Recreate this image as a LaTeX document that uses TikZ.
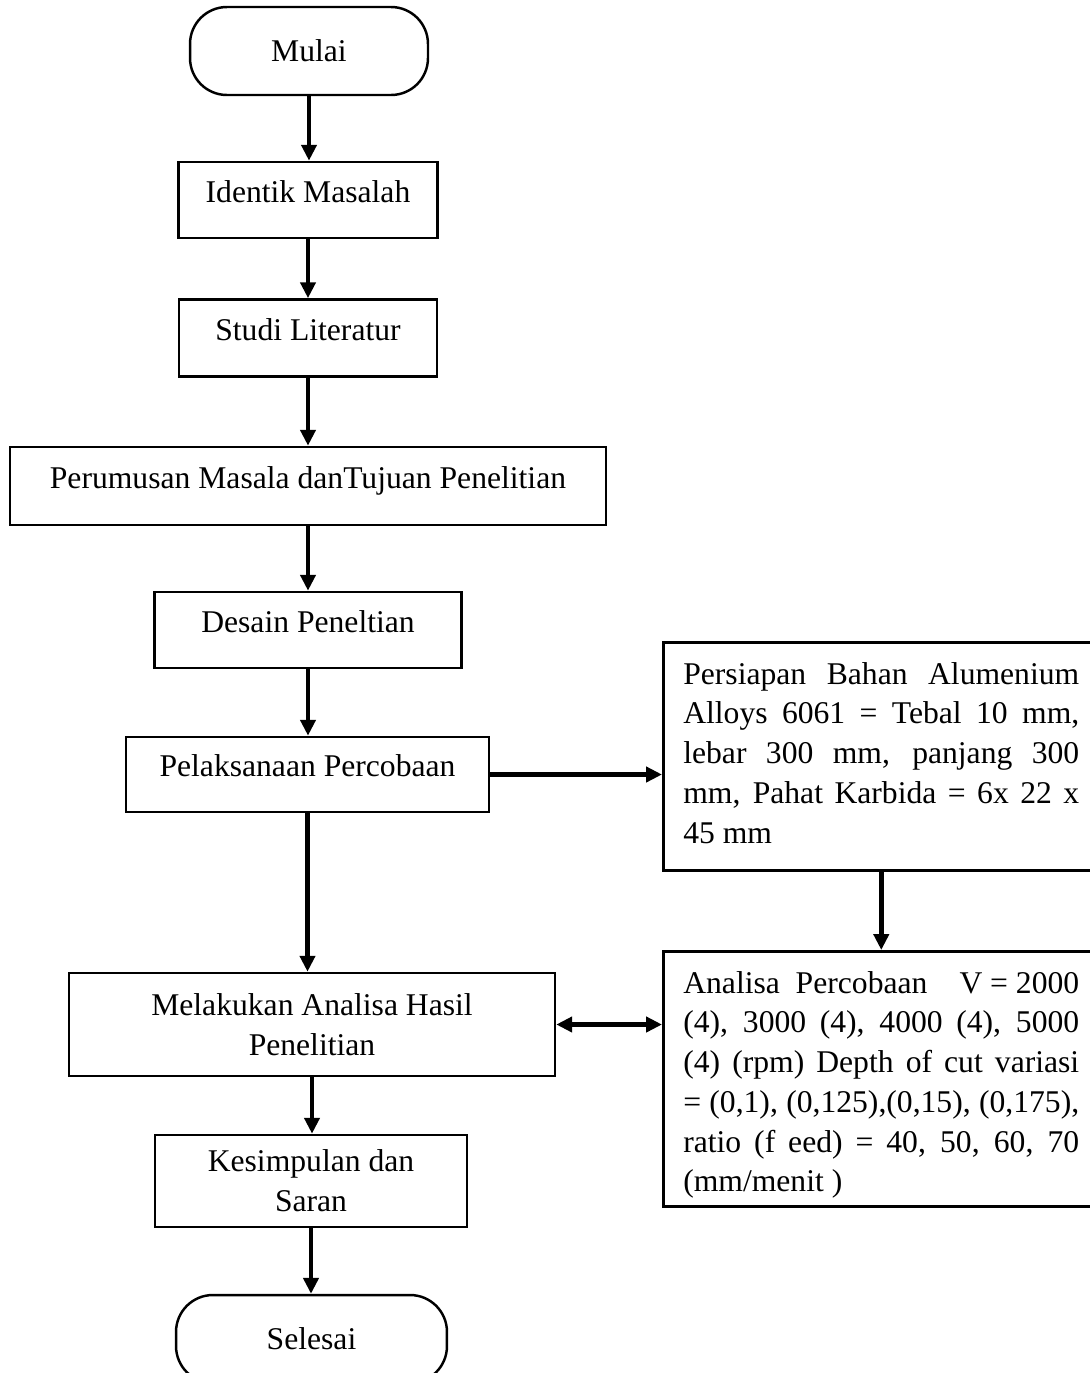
\documentclass[tikz,border=0pt]{standalone}
\usepackage{fontspec}
\setmainfont{Liberation Serif}
\usepackage{tikz}
\usetikzlibrary{arrows.meta,calc,positioning}
\newcommand{\tahapfont}{\fontsize{18}{22.6}\selectfont}

\begin{document}
\begin{tikzpicture}[x=0.02cm,y=-0.02cm,
  tahapterminal/.style={draw=black,line width=1.4pt,rounded corners=21pt,
    minimum width=4.76cm,minimum height=1.76cm,font=\tahapfont,inner sep=0pt},
  tahapbox/.style={draw=black,line width=1.5pt,align=center,
    font=\tahapfont,inner sep=0pt},
  tahapsingle/.style={tahapbox,text height=0.7em,text depth=0.42em},
  tahapnote/.style={draw=black,line width=1.5pt,anchor=north west,
    font=\tahapfont,inner xsep=0.4cm,inner ysep=0.4cm},
  tahapflow/.style={-{Triangle[length=9pt,width=8.5pt]},line width=2.8pt},
  tahapboth/.style={{Triangle[length=9pt,width=8.5pt]}-{Triangle[length=9pt,width=8.5pt]},
    line width=2.8pt}
]
  \useasboundingbox (0,0) rectangle (1089,1373);

  % main column
  \node[tahapterminal] (mulai) at (309,51) {Mulai};
  \node[tahapsingle,minimum width=5.18cm,minimum height=1.52cm] (identik)
    at (308,200) {Identik Masalah};
  \node[tahapsingle,minimum width=5.16cm,minimum height=1.54cm] (studi)
    at (308,338) {Studi Literatur};
  \node[tahapsingle,minimum width=11.92cm,minimum height=1.56cm] (perumusan)
    at (308,486) {Perumusan Masala danTujuan Penelitian};
  \node[tahapsingle,minimum width=6.14cm,minimum height=1.52cm] (desain)
    at (308,630) {Desain Peneltian};
  \node[tahapsingle,minimum width=7.26cm,minimum height=1.5cm] (pelaksanaan)
    at (307.5,774.5) {Pelaksanaan Percobaan};
  \node[tahapbox,minimum width=9.72cm,minimum height=2.06cm] (analisahasil)
    at (312,1024.5) {Melakukan Analisa Hasil\\Penelitian};
  \node[tahapbox,minimum width=6.24cm,minimum height=1.84cm] (kesimpulan)
    at (311,1181) {Kesimpulan dan\\Saran};
  \node[tahapterminal,minimum width=5.42cm] (selesai) at (311.5,1339) {Selesai};

  \draw[tahapflow] (mulai.south) -- (mulai.south |- identik.north);
  \draw[tahapflow] (identik.south) -- (identik.south |- studi.north);
  \draw[tahapflow] (studi.south) -- (studi.south |- perumusan.north);
  \draw[tahapflow] (perumusan.south) -- (perumusan.south |- desain.north);
  \draw[tahapflow] (desain.south) -- (desain.south |- pelaksanaan.north);
  \draw[tahapflow] (pelaksanaan.south) -- (pelaksanaan.south |- analisahasil.north);
  \draw[tahapflow] (analisahasil.south) -- (analisahasil.south |- kesimpulan.north);
  \draw[tahapflow] (kesimpulan.south) -- (kesimpulan.south |- selesai.north);

  % side column
  \node[tahapnote] (persiapan) at (662,641)
    {\parbox[t][3.76cm][t]{7.92cm}{\hyphenpenalty=10000
      Persiapan Bahan Alumenium\linebreak
      Alloys 6061 = Tebal 10 mm,\linebreak
      lebar 300 mm, panjang 300\linebreak
      mm, Pahat Karbida = 6x 22 x\linebreak
      45 mm}};
  \node[tahapnote] (analisa) at (662,950)
    {\parbox[t][4.3cm][t]{7.92cm}{\hyphenpenalty=10000
      Analisa\ \ Percobaan\hfill V = 2000\linebreak
      (4), 3000 (4), 4000 (4), 5000\linebreak
      (4) (rpm) Depth of cut variasi\linebreak
      = (0,1), (0,125),(0,15), (0,175),\linebreak
      ratio (f eed) = 40, 50, 60, 70\linebreak
      (mm/menit )}};

  \draw[tahapflow] (pelaksanaan.east) -- (pelaksanaan.east -| persiapan.west);
  \draw[tahapflow] (persiapan.south) -- (analisa.north);
  \draw[tahapboth] (analisahasil.east) -- (analisahasil.east -| analisa.west);
\end{tikzpicture}
\end{document}
